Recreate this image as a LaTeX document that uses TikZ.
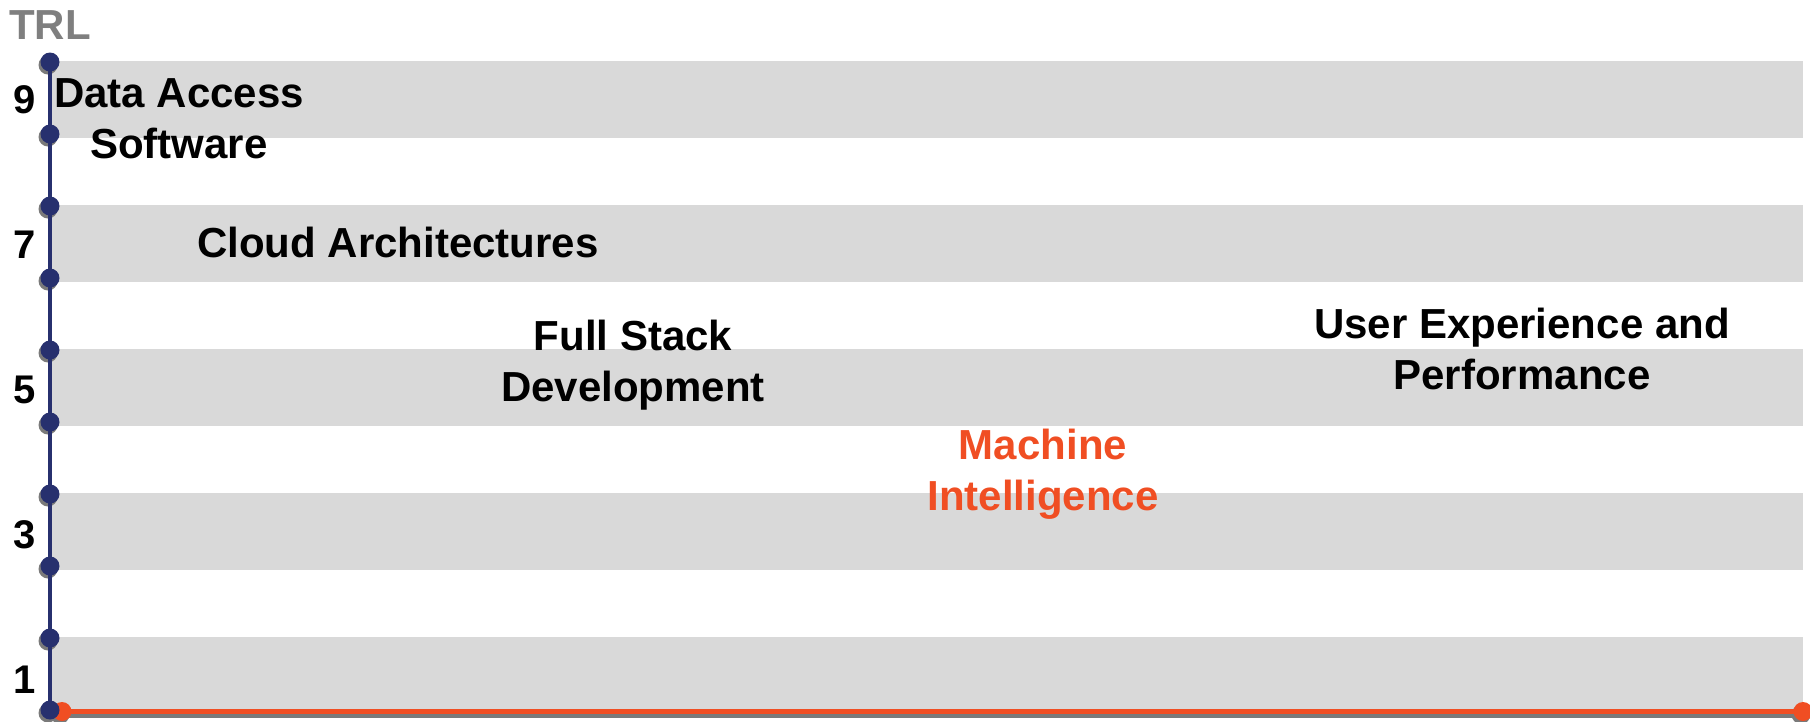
\documentclass[tikz,border=0pt]{standalone}
\usepackage{fontspec}
\setmainfont{Liberation Sans}
\definecolor{axisblue}{HTML}{27306E}
\definecolor{accent}{HTML}{F04E23}
\definecolor{bandgray}{HTML}{D9D9D9}
\definecolor{shadowgray}{HTML}{7A7A7A}
\definecolor{titlegray}{HTML}{7F7F7F}
\tikzset{
  lbl/.style={font=\bfseries\fontsize{42}{51}\selectfont, align=center, inner sep=0pt},
  tick/.style={font=\bfseries\fontsize{40}{46}\selectfont, inner sep=0pt},
  axisline/.style={draw=axisblue, line width=4.5pt},
  hline/.style={draw=accent, line width=5.5pt},
  dotr/.style={radius=9.5pt},
}
\begin{document}
\begin{tikzpicture}[x=1pt,y=-1pt]
\useasboundingbox (0,0) rectangle (1810,721);
% bands
\foreach \t in {61,205,349,493,637}
  \fill[bandgray] (50,\t) rectangle (1803,\t+77);
% coordinates
\coordinate (top) at (50,62);
\coordinate (origin) at (50,710);
\coordinate (xstart) at (62,711.5);
\coordinate (xend) at (1803,711.5);
% shadows
\draw[shadowgray, line width=5pt] ([shift={(-1,3.5)}]xstart) -- ([shift={(-1,3.5)}]xend);
\fill[shadowgray] ([shift={(-2,3)}]xend) circle[dotr];
\fill[shadowgray] ([shift={(-2,3)}]xstart) circle[dotr];
\foreach \k in {0,...,9}
  \fill[shadowgray] (48,62+72*\k+3) circle[dotr];
% x axis (orange)
\draw[hline] (xstart) -- (xend);
\fill[accent] (xstart) circle[dotr];
\fill[accent] (xend) circle[dotr];
% y axis (blue)
\draw[axisline] (top) -- (origin);
\foreach \k in {0,...,9}
  \fill[axisblue] (50,62+72*\k) circle[dotr];
% axis title and ticks
\node[font=\bfseries\fontsize{42}{48}\selectfont, text=titlegray, inner sep=0pt] (trl) at (50,25) {TRL};
\node[tick] (t9) at (25,100) {9};
\node[tick] (t7) at (25,245) {7};
\node[tick] (t5) at (25,390) {5};
\node[tick] (t3) at (25,535) {3};
\node[tick] (t1) at (25,680) {1};
% labels
\node[lbl] (das) at (179,119) {Data Access\\Software};
\node[lbl] (cloud) at (398,242) {Cloud Architectures};
\node[lbl] (fsd) at (633,365) {Full Stack\\Development};
\node[lbl, text=accent] (mi) at (1043,474) {Machine\\Intelligence};
\node[lbl] (ux) at (1522,349) {User Experience and\\Performance};
\end{tikzpicture}
\end{document}
